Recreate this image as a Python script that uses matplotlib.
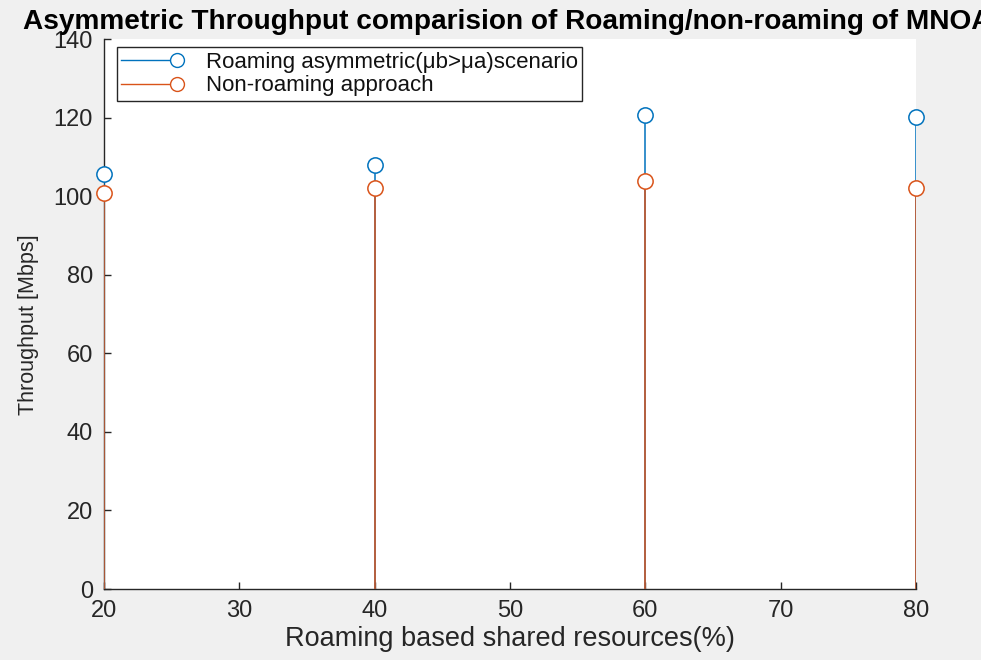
import matplotlib.pyplot as plt
from matplotlib.legend_handler import HandlerBase
from matplotlib.lines import Line2D

plt.rcParams["font.family"] = ["Liberation Sans", "DejaVu Sans"]

shared_pct = [20, 40, 60, 80]
roaming_tp = [105.6, 107.9, 120.6, 120.2]
nonroaming_tp = [100.7, 102.0, 103.9, 102.1]

BLUE = "#0072BD"
ORANGE = "#D95319"
AXC = "#262626"


class StemHandler(HandlerBase):
    """Legend entry: a short line with an open circle at its right end."""
    def create_artists(self, legend, orig, xdescent, ydescent, width, height,
                       fontsize, trans):
        y = height / 2 - ydescent
        c = orig.get_color()
        ln = Line2D([-xdescent, width - xdescent], [y, y], color=c, lw=1)
        mk = Line2D([width - xdescent], [y], marker="o", mfc="white",
                    mec=c, ms=10, mew=1, linestyle="none")
        ln.set_transform(trans)
        mk.set_transform(trans)
        return [ln, mk]


fig = plt.figure(figsize=(9.81, 6.6), dpi=100, facecolor="#f0f0f0")
ax = fig.add_axes([104 / 981, 1 - 589 / 660, 812 / 981, 550 / 660])

series = [(roaming_tp, BLUE, "Roaming asymmetric(\u03bcb>\u03bca)scenario"),
          (nonroaming_tp, ORANGE, "Non-roaming approach")]
handles = []
for vals, col, lab in series:
    ax.vlines(shared_pct, 0, vals, colors=col, lw=1.1, zorder=3)
    ax.plot(shared_pct, vals, linestyle="none", marker="o", ms=11,
            mfc="white", mec=col, mew=1.1, zorder=4, clip_on=False)
    handles.append(Line2D([], [], color=col, label=lab))

ax.set_xlim(20, 80)
ax.set_ylim(0, 140)
ax.set_xticks(range(20, 81, 10))
ax.set_yticks(range(0, 141, 20))
ax.spines["top"].set_visible(False)
ax.spines["right"].set_visible(False)
for s in ("left", "bottom"):
    ax.spines[s].set_color(AXC)
    ax.spines[s].set_linewidth(1)
    ax.spines[s].set_zorder(2)
ax.tick_params(direction="in", length=5, width=1, color=AXC,
               labelcolor=AXC, labelsize=17, pad=8)

ax.set_xlabel("Roaming based shared resources(%)", fontsize=19.5, color=AXC,
              labelpad=3)
ax.set_ylabel("Throughput [Mbps]", fontsize=15.5, color=AXC)
ax.yaxis.set_label_coords(-0.08, 0.48)

fig.text(507 / 981, 1 - 29 / 660, "Asymmetric Throughput comparision of Roaming/non-roaming of MNOA",
         ha="center", va="baseline", fontsize=20.2, fontweight="bold")

leg = ax.legend(handles=handles, handler_map={Line2D: StemHandler()},
                loc="upper left", bbox_to_anchor=(0.0156, 0.985),
                borderaxespad=0, fontsize=16, handlelength=2.5,
                handletextpad=1.3, labelspacing=0.12, borderpad=0.2,
                fancybox=False, framealpha=1)
leg.get_frame().set_edgecolor(AXC)
leg.get_frame().set_linewidth(1)
for t in leg.get_texts():
    t.set_color("#111111")

fig.savefig("out.png", dpi=100, facecolor=fig.get_facecolor())
